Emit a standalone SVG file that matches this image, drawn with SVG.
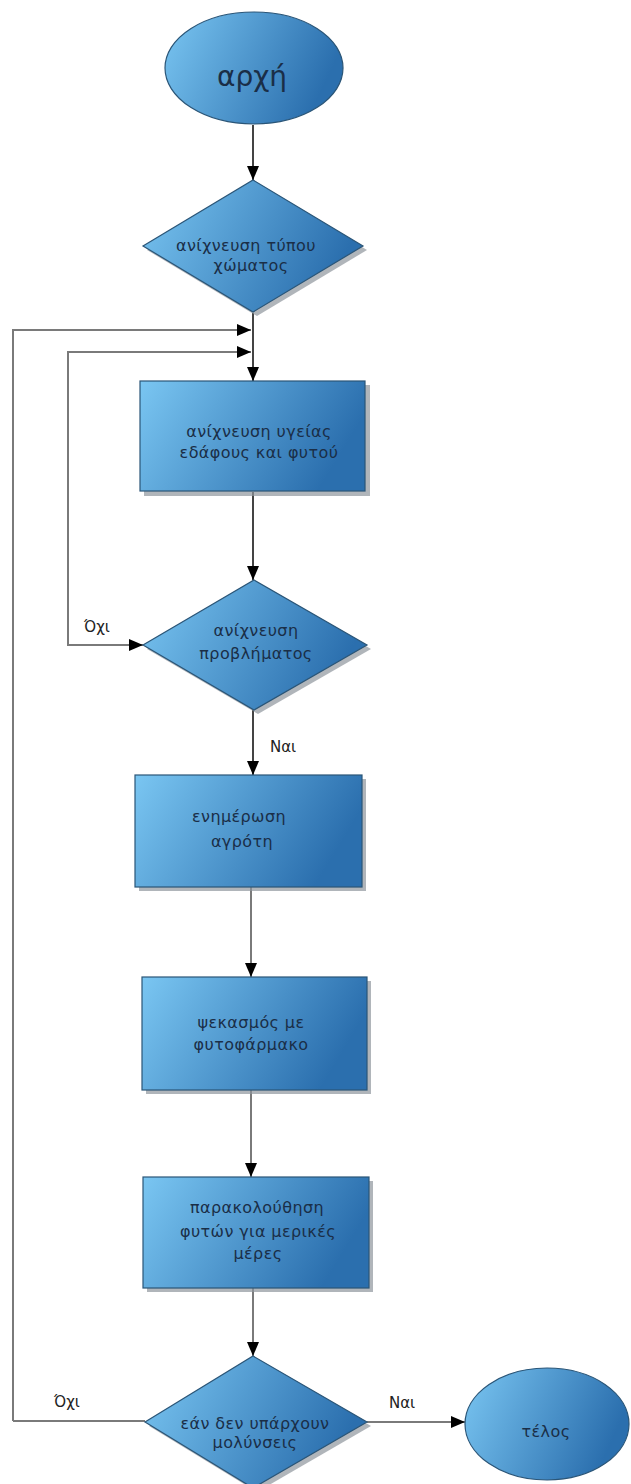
<svg xmlns="http://www.w3.org/2000/svg" width="631" height="1484" viewBox="0 0 631 1484">
<defs>
<linearGradient id="g" x1="0" y1="0" x2="1" y2="0.3">
<stop offset="0" stop-color="#7ac6f2"/>
<stop offset="1" stop-color="#2b6fae"/>
</linearGradient>
<marker id="ah" viewBox="0 0 14 12" refX="14" refY="6" markerWidth="14" markerHeight="12" markerUnits="userSpaceOnUse" orient="auto-start-reverse">
<path d="M0,0 L14,6 L0,12 Z" fill="#000"/>
</marker>
<style>
.shape{fill:url(#g);stroke:#2a5577;stroke-width:1.2}
.shadow{fill:#8f969c;opacity:0.7}
.t{font-family:"DejaVu Sans","Liberation Sans",sans-serif;font-size:16px;letter-spacing:0.4px;fill:#1a2e47;text-anchor:middle}
.lbl{font-family:"DejaVu Sans","Liberation Sans",sans-serif;font-size:15px;fill:#222;text-anchor:start}
.c{fill:none;stroke:#7a7a7a;stroke-width:2}
.cd{fill:none;stroke:#444;stroke-width:2}
</style>
</defs>
<rect width="631" height="1484" fill="#fff"/>
<g id="connectors">
<path class="cd" d="M253,125 V180" marker-end="url(#ah)"/>
<path class="cd" d="M253,313 V381" marker-end="url(#ah)"/>
<path class="c" d="M13,1421 V330 H251" marker-end="url(#ah)"/>
<path class="c" d="M143,645 H68 V352 H251" marker-start="url(#ah)" marker-end="url(#ah)"/>
<path class="cd" d="M253,492 V580" marker-end="url(#ah)"/>
<path class="cd" d="M253,710 V775" marker-end="url(#ah)"/>
<path class="c" d="M251,887 V977" marker-end="url(#ah)"/>
<path class="c" d="M251,1090 V1177" marker-end="url(#ah)"/>
<path class="c" d="M253,1288 V1356" marker-end="url(#ah)"/>
<path class="c" d="M145,1421 H13"/>
<path class="c" d="M367,1422 H465" marker-end="url(#ah)"/>
<text class="lbl" x="84" y="632">Όχι</text>
<text class="lbl" x="270" y="752">Ναι</text>
<text class="lbl" x="54" y="1407">Όχι</text>
<text class="lbl" x="389" y="1408">Ναι</text>
</g>
<g id="start">
<ellipse cx="254" cy="68" rx="89" ry="56" class="shape"/>
<text class="t" x="252" y="86" style="font-size:28px;letter-spacing:0">αρχή</text>
</g>
<g id="soil-type">
<polygon class="shadow" points="257,184 367,250 257,316 147,250"/>
<polygon class="shape" points="253,180 363,246 253,312 143,246"/>
<text class="t" x="246" y="251">ανίχνευση τύπου</text>
<text class="t" x="251" y="271">χώματος</text>
</g>
<g id="health">
<rect class="shadow" x="144" y="385" width="226" height="111"/>
<rect class="shape" x="140" y="381" width="225" height="110"/>
<text class="t" x="259" y="437">ανίχνευση υγείας</text>
<text class="t" x="259" y="458">εδάφους και φυτού</text>
</g>
<g id="problem">
<polygon class="shadow" points="258,584 371,649 258,714 147,649"/>
<polygon class="shape" points="254,580 367,645 254,710 143,645"/>
<text class="t" x="256" y="636">ανίχνευση</text>
<text class="t" x="256" y="659">προβλήματος</text>
</g>
<g id="inform">
<rect class="shadow" x="139" y="779" width="227" height="112"/>
<rect class="shape" x="135" y="775" width="227" height="112"/>
<text class="t" x="239" y="822">ενημέρωση</text>
<text class="t" x="242" y="847">αγρότη</text>
</g>
<g id="spray">
<rect class="shadow" x="146" y="981" width="225" height="113"/>
<rect class="shape" x="142" y="977" width="225" height="113"/>
<text class="t" x="251" y="1028">ψεκασμός με</text>
<text class="t" x="251" y="1050">φυτοφάρμακο</text>
</g>
<g id="monitor">
<rect class="shadow" x="147" y="1181" width="226" height="111"/>
<rect class="shape" x="143" y="1177" width="226" height="111"/>
<text class="t" x="257" y="1213">παρακολούθηση</text>
<text class="t" x="258" y="1237">φυτών για μερικές</text>
<text class="t" x="258" y="1259">μέρες</text>
</g>
<g id="no-infection">
<polygon class="shadow" points="257,1360 371,1426 257,1492 149,1426"/>
<polygon class="shape" points="253,1356 367,1422 253,1488 145,1422"/>
<text class="t" x="255" y="1429">εάν δεν υπάρχουν</text>
<text class="t" x="255" y="1448">μολύνσεις</text>
</g>
<g id="end">
<ellipse cx="547" cy="1424" rx="82" ry="56" class="shape"/>
<text class="t" x="546" y="1437">τέλος</text>
</g>
</svg>
